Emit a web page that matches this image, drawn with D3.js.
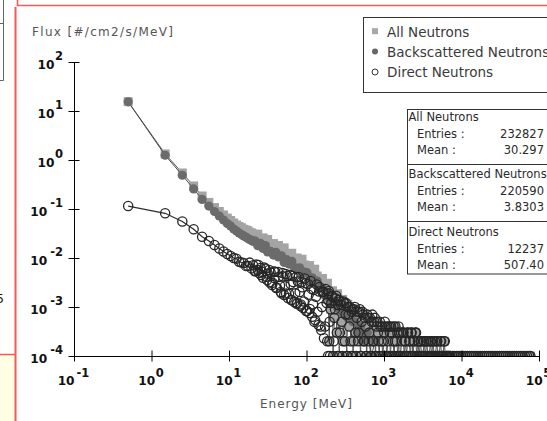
<!DOCTYPE html>
<html><head><meta charset="utf-8">
<script src="https://cdn.jsdelivr.net/npm/d3@7"></script>
<style>html,body{margin:0;padding:0;background:#fff;overflow:hidden}svg{display:block}</style>
</head><body><svg id="c" width="547" height="421"></svg>
<script>
// ---------- data (energy in MeV, flux in #/cm2/s/MeV) ----------
const lowE = [0.5,1.5,2.5,3.5,4.5,5.5,6.5,7.5,8.5,9.5,10.5,11.5,12.5,13.5,14.5,15.5,16.5,17.5,18.5,19.5,20.5];
const allLow = [15.5,1.33,0.543,0.295,0.184,0.136,0.107,0.0889,0.0755,0.0655,0.0582,0.0518,0.0471,0.0439,0.0415,0.0386,0.0373,0.0362,0.0335,0.0324,0.0309];
const backLow = [15.4,1.25,0.488,0.257,0.157,0.115,0.0889,0.0720,0.0596,0.0506,0.0450,0.0391,0.0356,0.0324,0.0302,0.0281,0.0268,0.0250,0.0239,0.0228,0.0217];
const directLow = [0.115,0.0817,0.0556,0.0385,0.0272,0.0222,0.0184,0.0156,0.0136,0.0121,0.0110,0.0100,0.0097,0.0084,0.0081,0.0079,0.0069,0.0069];

const midE = [21.5,23.5,25.5,27.5,29.5,31.5,34.5,37.5,40.5,43.5,47.5,51.5,55.5,59.5,64.5,69.5,75.5,81.5,87.5,94.5,101.5,109.5,118.5,127.5,137.5,148.5,160.5,172.5,186.5,200.5,216.5,233.5,251.5,271.5,292.5,315.5,340.5,367.5,396.5];
const allMid = [0.0284,0.0306,0.0239,0.0257,0.0211,0.0239,0.0193,0.0197,0.0153,0.0180,0.0144,0.0161,0.0120,0.0123,0.0125,0.00902,0.0100,0.00798,0.00945,0.00720,0.00605,0.00700,0.00523,0.00591,0.00429,0.00347,0.00382,0.00275,0.00305,0.00202,0.00214,0.00165,0.00186,0.00125,0.00143,0.00106,0.00114,0.0008,0.00088];
const backMid = [0.0224,0.0178,0.0198,0.0157,0.0179,0.0133,0.0136,0.0115,0.0130,0.0105,0.0111,0.00813,0.00923,0.00751,0.00856,0.00649,0.00569,0.00631,0.00467,0.00518,0.00501,0.00362,0.00394,0.00306,0.00339,0.00239,0.00241,0.00172,0.0019,0.00146,0.00116,0.0013,0.00096,0.00108,0.00078,0.0008,0.0006,0.00066,0.0005];

const directMidE = [18.5,19.5,20.5,21.5,22.5,23.5,24.5,25.5,26.5,27.5,29.5,30.5,31.5,33.5,34.5,36.5,38.5,39.5,41.5,43.5,45.5,47.5,49.5,52.5,54.5,56.5,59.5,62.5,64.5,67.5,71.5,74.5,77.5,81.5,84.5,88.5,92.5,97.5,101.5,106.5,110.5,116.5,121.5,126.5,132.5,138.5,145.5,151.5,158.5,165.5,173.5,181.5,189.5,198.5];
const directMid = [0.00806,0.00614,0.0071,0.00538,0.0074,0.00569,0.00494,0.00625,0.00523,0.00396,0.00608,0.00415,0.00483,0.00315,0.00508,0.00312,0.00389,0.00525,0.00248,0.00408,0.00276,0.00191,0.00425,0.00266,0.00188,0.00429,0.00186,0.00293,0.00139,0.00324,0.0019,0.00116,0.00333,0.00202,0.00113,0.00252,0.0013,0.00306,0.00083,0.00178,0.00091,0.00234,0.00114,0.0005,0.00162,0.0008,0.00208,0.0004,0.001,0.00205,0.0004,0.0012,0.0001,0.0005];

// further direct-neutron bins inside the dense region
const directExtraE = [22,24,26,28.5,31,33,36,38,40.5,43,46.5,49,51.5,54,57.5,61,63.5,66,69.5,73,
  76,79.5,83.5,86,90.5,95,99,104.5,109,113,118.5,124,129.5,135.5,143,147,154.5,161,168,176.5,185,194,
  193.5,201,208.5,216,224.5,233,241.5,250.5,260,270,280,290.5,301.5,313,325,337,349.5,363,377,391,
  405.5,421,437,453.5,470.5,488,506.5,525.5,545.5,566.5,587.5,609.5,633,657,681.5,707,734,762,790.5,820.5,
  851.5,883.5,917,951.5,987.5,1025,1063.5,1103.5,1145.5,1189,1234,1280.5,1329,1379.5,1431.5,1485.5,1541.5,1600,1660.5,1723,
  1788.5,1856.5,1926.5,1999,2074.5,2153,2234.5,2319,2407,2498,2592,2690,2792,2898,3007.5,3121,3239,3361.5,3489,3621,
  3757.5,3899.5,4047,4200,4359,4524,4695,4872.5,5057,5248,5446.5,5652.5,5866,6088,6318.5,6557.5,6805.5,7063];
const directExtraFlux = [0.00543,0.0072,0.0045,0.0064,0.00356,0.00569,0.00281,0.0053,0.00244,0.00518,0.00202,0.00494,0.00176,0.00472,0.00153,0.0045,0.00139,0.00429,0.00126,0.0041,
  0.00121,0.0041,0.00105,0.00324,0.00095,0.00382,0.00083,0.00295,0.00075,0.00339,0.00063,0.00222,0.00054,0.00288,0.00043,0.00256,0.00034,0.00202,0.00023,0.00233,0.0002,0.00212,
  19e-4,1e-4,12e-4,16e-4,2e-4,9e-4,17e-4,1e-4,14e-4,3e-4,11e-4,1e-4,13e-4,2e-4,12e-4,1e-4,7e-4,10e-4,1e-4,9e-4,
  2e-4,10e-4,1e-4,8e-4,3e-4,9e-4,1e-4,8e-4,2e-4,6e-4,1e-4,7e-4,2e-4,6e-4,1e-4,7e-4,2e-4,6e-4,1e-4,5e-4,
  2e-4,5e-4,1e-4,4e-4,2e-4,5e-4,1e-4,4e-4,1e-4,3e-4,4e-4,1e-4,4e-4,2e-4,1e-4,3e-4,4e-4,1e-4,3e-4,1e-4,
  3e-4,2e-4,1e-4,3e-4,1e-4,2e-4,3e-4,1e-4,2e-4,1e-4,3e-4,1e-4,2e-4,1e-4,2e-4,1e-4,2e-4,1e-4,2e-4,1e-4,
  2e-4,1e-4,2e-4,1e-4,1e-4,2e-4,1e-4,2e-4,1e-4,1e-4,2e-4,1e-4,1e-4,2e-4,1e-4,1e-4,1e-4,1e-4];

// high-energy low-count bins (shared by All and Direct)
const tailE = [190,197,205,212,220,229,237,246,255,265,275,285,296,307,319,331,343,356,370,384,398,413,429,445,462,479,497,516,535,556,577,598,621,645,669,694,720,748,776,805,836,867,900,934,969,1006,1044,1083,1124,1167,1211,1257,1304,1354,1405,1458,1513,1570,1630,1691,1755,1822,1891,1962,2036,2113,2193,2276,2362,2452,2544,2640,2740,2844,2952,3063,3179,3299,3424,3554,3688,3827,3972,4122,4278,4440,4608,4782,4963,5151,5345,5548,5757,5975,6201,6436,6679,6932,7194,7650,8150,8700,9250,9850,10500,11200,11900,12700,13500,14400,15300,16300,17400,18500,19700,21000,22400,23900,25400,27100,28900,30800,32800,34900,37200,39600,42200,45000,47900,51000,54400,58000,61700,65800,70100,74700,77500];
const tailFlux = [14e-4,2e-4,9e-4,17e-4,1e-4,6e-4,15e-4,3e-4,11e-4,1e-4,
  13e-4,5e-4,2e-4,12e-4,7e-4,1e-4,10e-4,4e-4,2e-4,8e-4,
  1e-4,9e-4,3e-4,6e-4,2e-4,8e-4,1e-4,5e-4,7e-4,2e-4,
  4e-4,1e-4,6e-4,3e-4,1e-4,5e-4,2e-4,5e-4,1e-4,4e-4,
  3e-4,1e-4,4e-4,2e-4,1e-4,3e-4,4e-4,1e-4,2e-4,4e-4,
  1e-4,3e-4,2e-4,1e-4,4e-4,2e-4,1e-4,3e-4,1e-4,2e-4,
  3e-4,1e-4,2e-4,1e-4,3e-4,2e-4,1e-4,3e-4,1e-4,2e-4,
  3e-4,1e-4,2e-4,1e-4,2e-4,1e-4,1e-4,2e-4,1e-4,2e-4,
  1e-4,1e-4,2e-4,1e-4,2e-4,1e-4,1e-4,2e-4,1e-4,1e-4,
  2e-4,1e-4,1e-4,2e-4,1e-4,1e-4,1e-4,1e-4,1e-4,
  1e-4,1e-4,1e-4,1e-4,1e-4,1e-4,1e-4,1e-4,1e-4,1e-4,1e-4,1e-4,1e-4,1e-4,1e-4,1e-4,1e-4,1e-4,1e-4,
  1e-4,1e-4,1e-4,1e-4,1e-4,1e-4,1e-4,1e-4,1e-4,1e-4,1e-4,1e-4,1e-4,1e-4,1e-4,1e-4,1e-4,1e-4,1e-4];
const backTailE = [420,455,500,560,610,690,760];
const backTail = [5e-4,3e-4,4e-4,2e-4,3e-4,1e-4,2e-4];

const xTicks = [0.1,1,10,100,1000,10000,100000];
const xExp = ["-1","0","1","2","3","4","5"];
const yTicks = [1e-4,1e-3,1e-2,1e-1,1,10,100];
const yExp = ["-4","-3","-2","-1","0","1","2"];

const seriesNames = ["All Neutrons","Backscattered Neutrons","Direct Neutrons"];
const statEntries = ["232827","220590","12237"];
const statMeans = ["30.297","3.8303","507.40"];

// ---------- build ----------
function pts(E, F){ return E.map((e,i)=>({e:e,f:F[i]})); }
const allPts = [].concat(pts(lowE,allLow), pts(midE,allMid), pts(tailE,tailFlux)).sort((a,b)=>a.e-b.e);
const backPts = [].concat(pts(lowE,backLow), pts(midE,backMid), pts(backTailE,backTail)).sort((a,b)=>a.e-b.e);
const directPts = [].concat(pts(lowE,directLow), pts(directMidE,directMid), pts(directExtraE,directExtraFlux), pts(tailE,tailFlux)).sort((a,b)=>a.e-b.e);

const svg = d3.select('#c');
const FONT = "'DejaVu Sans', Verdana, sans-serif";

// surrounding UI decorations
svg.append('rect').attr('x',0).attr('y',355).attr('width',14).attr('height',66).attr('fill','#ffffe3');
svg.append('line').attr('x1',0).attr('x2',15).attr('y1',354.5).attr('y2',354.5).attr('stroke','#f55').attr('stroke-width',1.5);
svg.append('path').attr('d','M0,23.5H3.5V0M0,80.5H3.5V23').attr('fill','none').attr('stroke','#666').attr('stroke-width',1);
svg.append('path').attr('d','M17.5,0V5.5H547').attr('fill','none').attr('stroke','#f55').attr('stroke-width',1.6);
svg.append('line').attr('x1',15.5).attr('x2',15.5).attr('y1',7).attr('y2',421).attr('stroke','#f55').attr('stroke-width',2);
svg.append('text').attr('x',4).attr('y',303).attr('text-anchor','end').attr('font-family',FONT).attr('font-size',12).attr('fill','#111').text('5');

const x = d3.scaleLog().domain([0.1,1e5]).range([74,539]);
const y = d3.scaleLog().domain([1e-4,1e2]).range([356,62]);

svg.append('clipPath').attr('id','plotclip').append('rect').attr('x',74).attr('y',40).attr('width',470).attr('height',316);
const plot = svg.append('g').attr('clip-path','url(#plotclip)');
const line = d3.line().x(d=>x(d.e)).y(d=>y(d.f));

// All neutrons: light grey squares
plot.append('path').datum(allPts).attr('d',line).attr('fill','none').attr('stroke','#555').attr('stroke-width',1);
plot.append('g').selectAll('rect').data(allPts).join('rect')
  .attr('x',d=>x(d.e)-4.5).attr('y',d=>y(d.f)-4.5).attr('width',9).attr('height',9).attr('fill','#a4a4a4');
// Backscattered: dark grey filled circles
plot.append('path').datum(backPts).attr('d',line).attr('fill','none').attr('stroke','#4a4a4a').attr('stroke-width',1);
plot.append('g').selectAll('circle').data(backPts).join('circle')
  .attr('cx',d=>x(d.e)).attr('cy',d=>y(d.f)).attr('r',4.6).attr('fill','#6b6b6b');
// Direct: open circles
plot.append('path').datum(directPts).attr('d',line).attr('fill','none').attr('stroke','#2e2e2e').attr('stroke-width',1.25);
plot.append('g').selectAll('circle').data(directPts).join('circle')
  .attr('cx',d=>x(d.e)).attr('cy',d=>y(d.f)).attr('r',4.6).attr('fill','none').attr('stroke','#262626').attr('stroke-width',1.3);

// axes
const gx = svg.append('g').attr('transform','translate(0,356)')
  .call(d3.axisBottom(x).tickValues(xTicks).tickSizeInner(0).tickSizeOuter(0).tickFormat(()=>''));
gx.select('.domain').attr('stroke','#000');
gx.selectAll('.tick text').remove();
gx.selectAll('.tick').append('line').attr('y1',-5.5).attr('y2',5.5).attr('stroke','#000');
gx.selectAll('.tick').each(function(d,i){
  const t = d3.select(this).append('text').attr('x',-1).attr('y',29).attr('text-anchor','middle')
    .attr('fill','#111').attr('font-family',FONT).attr('font-weight','bold').attr('font-size',12.2);
  t.append('tspan').text('10');
  t.append('tspan').attr('dy',-8.5).attr('dx',xExp[i].startsWith('-')?2:0.5).attr('font-size',11.5).text(xExp[i]);
});

const gy = svg.append('g').attr('transform','translate(74,0)')
  .call(d3.axisLeft(y).tickValues(yTicks).tickSizeInner(0).tickSizeOuter(0).tickFormat(()=>''));
gy.select('.domain').attr('stroke','#000');
gy.selectAll('.tick text').remove();
gy.selectAll('.tick').append('line').attr('x1',-5.5).attr('x2',5.5).attr('stroke','#000');
gy.selectAll('.tick').each(function(d,i){
  const t = d3.select(this).append('text').attr('x',-11).attr('y',6).attr('text-anchor','end')
    .attr('fill','#111').attr('font-family',FONT).attr('font-weight','bold').attr('font-size',12.2);
  t.append('tspan').text('10');
  t.append('tspan').attr('dy',-8.5).attr('dx',yExp[i].startsWith('-')?3:0.5).attr('font-size',11.5).text(yExp[i]);
});

// axis titles
svg.append('text').attr('x',32).attr('y',36).attr('font-family',FONT).attr('font-size',12).attr('fill','#555')
  .attr('textLength',141).attr('lengthAdjust','spacing').text('Flux [#/cm2/s/MeV]');
svg.append('text').attr('x',260).attr('y',408).attr('font-family',FONT).attr('font-size',12).attr('fill','#555')
  .attr('textLength',92).attr('lengthAdjust','spacing').text('Energy [MeV]');

// legend
const lg = svg.append('g');
lg.append('rect').attr('x',363.5).attr('y',17.5).attr('width',200).attr('height',75).attr('fill','#fff').attr('stroke','#333');
const lgY = [31.2,51.5,72];
lg.append('rect').attr('x',372).attr('y',lgY[0]-3).attr('width',6).attr('height',6).attr('fill','#a8a8a8');
lg.append('circle').attr('cx',375).attr('cy',lgY[1]).attr('r',3).attr('fill','#666');
lg.append('circle').attr('cx',375).attr('cy',lgY[2]).attr('r',3).attr('fill','none').attr('stroke','#333');
seriesNames.forEach((s,i)=>{
  lg.append('text').attr('x',387).attr('y',lgY[i]+5.3).attr('font-family',FONT).attr('font-size',13.5).attr('fill','#3a3a3a').text(s);
});

// statistics box
const st = svg.append('g').attr('font-family',FONT).attr('font-size',11.5).attr('fill','#2a2a2a');
st.append('rect').attr('x',407.5).attr('y',109.5).attr('width',160).attr('height',164.5).attr('fill','#fff').attr('stroke','#333');
st.append('line').attr('x1',407).attr('x2',547).attr('y1',164.5).attr('y2',164.5).attr('stroke','#333');
st.append('line').attr('x1',407).attr('x2',547).attr('y1',221.5).attr('y2',221.5).attr('stroke','#333');
const secY = [121,178,236];
seriesNames.forEach((s,i)=>{
  const b = secY[i];
  st.append('text').attr('x',408.5).attr('y',b).text(s);
  st.append('text').attr('x',417).attr('y',b+16.5).text('Entries :');
  st.append('text').attr('x',417).attr('y',b+33).text('Mean :');
  st.append('text').attr('x',544).attr('y',b+16.5).attr('text-anchor','end').text(statEntries[i]);
  st.append('text').attr('x',544).attr('y',b+33).attr('text-anchor','end').text(statMeans[i]);
});
</script></body></html>
